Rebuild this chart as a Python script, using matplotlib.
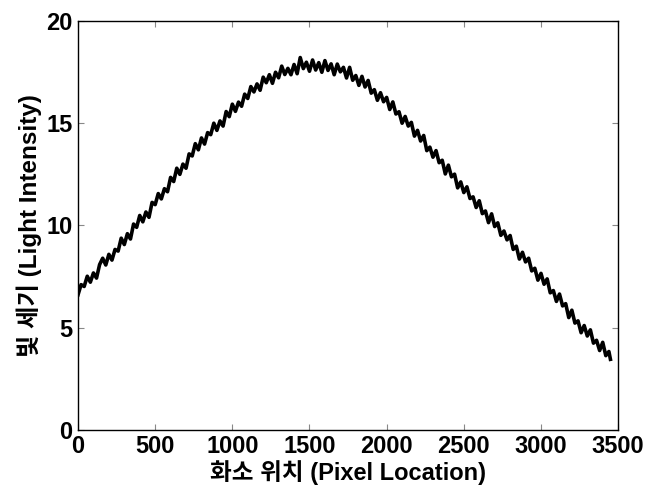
import matplotlib.pyplot as plt
import numpy as np

plt.rcParams['font.family'] = ['Liberation Sans', 'Noto Sans CJK KR', 'DejaVu Sans']

# pixel positions (every 20 px, last sample at 3450)
pixel_location = np.append(np.arange(0, 3441, 20), 3450)

# light intensity, noise included
light_intensity = [
    6.60, 7.10, 7.01, 7.51, 7.22, 7.67, 7.42, 8.08, 8.39, 8.06,
    8.58, 8.30, 8.82, 8.74, 9.37, 9.06, 9.59, 9.33, 10.06, 9.90,
    10.48, 10.17, 10.65, 10.39, 11.12, 11.01, 11.55, 11.29, 11.79, 11.64,
    12.34, 12.14, 12.79, 12.49, 12.99, 12.79, 13.49, 13.39, 13.99, 13.69,
    14.27, 13.97, 14.53, 14.43, 14.99, 14.64, 15.10, 14.85, 15.56, 15.31,
    15.92, 15.57, 16.02, 15.82, 16.41, 16.20, 16.78, 16.52, 16.91, 16.60,
    17.24, 16.97, 17.36, 16.94, 17.48, 17.21, 17.78, 17.37, 17.67, 17.36,
    17.86, 17.41, 18.20, 17.66, 17.97, 17.53, 18.08, 17.59, 17.95, 17.48,
    18.05, 17.57, 17.89, 17.36, 17.88, 17.50, 17.72, 17.20, 17.72, 17.09,
    17.32, 16.84, 17.28, 16.76, 17.08, 16.46, 16.63, 16.11, 16.48, 16.04,
    16.25, 15.66, 16.03, 15.44, 15.55, 14.99, 15.32, 14.85, 15.03, 14.36,
    14.64, 14.12, 14.39, 13.65, 13.82, 13.33, 13.65, 13.06, 13.18, 12.51,
    12.94, 12.37, 12.50, 11.83, 12.12, 11.60, 11.88, 11.31, 11.39, 10.87,
    11.20, 10.57, 10.70, 10.13, 10.56, 9.94, 10.12, 9.51, 9.72, 9.29,
    9.50, 8.82, 8.98, 8.35, 8.68, 8.21, 8.39, 7.77, 7.90, 7.32,
    7.65, 7.12, 7.38, 6.70, 6.81, 6.28, 6.64, 6.06, 6.17, 5.49,
    5.85, 5.22, 5.33, 4.75, 5.10, 4.59, 4.89, 4.24, 4.38, 3.88,
    4.28, 3.63, 3.83, 3.45,
]

x_ticks = [0, 500, 1000, 1500, 2000, 2500, 3000, 3500]
y_ticks = [0, 5, 10, 15, 20]

fig = plt.figure(figsize=(6.5, 4.93), dpi=100)
ax = fig.add_axes([0.12, 0.128, 0.831, 0.83])

ax.plot(pixel_location, light_intensity, color='black', linewidth=2.6)

ax.set_xlim(0, 3500)
ax.set_ylim(0, 20)
ax.set_xticks(x_ticks)
ax.set_yticks(y_ticks)

ax.tick_params(direction='in', top=True, right=True, length=4, width=0.8,
               color='#888888', labelsize=17)
ax.tick_params(axis='x', pad=4)
ax.tick_params(axis='y', pad=4)
for label in ax.get_xticklabels() + ax.get_yticklabels():
    label.set_fontweight('bold')
for spine in ax.spines.values():
    spine.set_linewidth(1.0)

ax.set_xlabel('화소 위치 (Pixel Location)', fontsize=17, fontweight='bold', labelpad=1)
ax.set_ylabel('빛 세기 (Light Intensity)', fontsize=17.5, fontweight='bold', labelpad=3)

fig.savefig('out.png', dpi=100)
